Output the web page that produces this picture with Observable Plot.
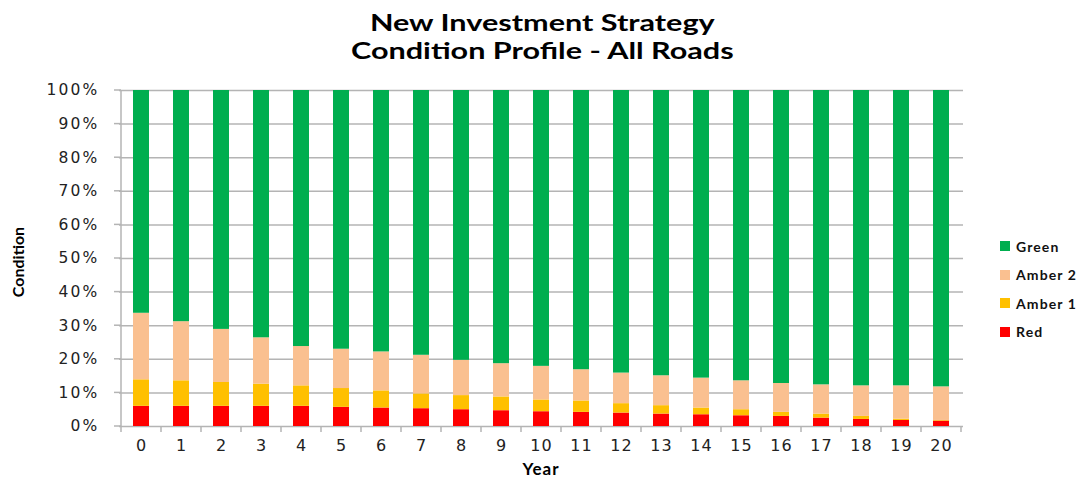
<!DOCTYPE html>
<html>
<head>
<meta charset="utf-8">
<script src="https://cdn.jsdelivr.net/npm/d3@7"></script>
<script src="https://cdn.jsdelivr.net/npm/@observablehq/plot@0.6"></script>
<style>
  html, body { margin: 0; padding: 0; background: #fff; }
  #wrap { position: relative; width: 1084px; height: 481px; overflow: hidden; }
  #title { position: absolute; left: 0; top: 8px; width: 1084px; text-align: center;
    font-family: Lato, "Open Sans", sans-serif; font-weight: bold; font-size: 23px; line-height: 28px; color: #000;
    transform: scaleX(1.33); transform-origin: 541px 0; }
  #chart { position: absolute; left: 0; top: 65px; }
  #legend { position: absolute; left: 1000px; top: 232px; font-family: Lato, "Open Sans", sans-serif;
    font-weight: bold; font-size: 14px; letter-spacing: 1.1px; color: #111; }
  .item { display: flex; align-items: center; height: 28.5px; }
  .sw { width: 10px; height: 10px; margin-right: 6px; }
</style>
</head>
<body>
<div id="wrap">
  <div id="title">New Investment Strategy<br>Condition Profile - All Roads</div>
  <div id="chart"></div>
  <div id="legend"></div>
</div>
<script>
const years = [0,1,2,3,4,5,6,7,8,9,10,11,12,13,14,15,16,17,18,19,20];
const red    = [6.0,6.0,6.0,6.0,6.0,5.7,5.5,5.3,5.0,4.7,4.4,4.2,4.0,3.7,3.5,3.2,3.0,2.5,2.1,1.8,1.6];
const amber1 = [7.9,7.6,7.1,6.6,6.1,5.6,5.1,4.4,4.2,4.1,3.5,3.4,2.8,2.5,2.0,1.8,1.2,1.2,0.9,0.4,0.2];
const amber2 = [19.8,17.6,15.8,13.8,11.7,11.7,11.6,11.5,10.5,9.9,10.0,9.3,9.1,8.9,8.9,8.6,8.6,8.7,9.1,9.9,10.0];
const green  = [66.3,68.8,71.1,73.6,76.2,77.0,77.8,78.8,80.3,81.3,82.1,83.1,84.1,84.9,85.6,86.4,87.2,87.6,87.9,87.9,88.2];
const seriesNames = ["Red","Amber 1","Amber 2","Green"];
const seriesColors = ["#FF0000","#FFC000","#FAC090","#00AE4F"];
const yTicks = [0,10,20,30,40,50,60,70,80,90,100];
const legendOrder = ["Green","Amber 2","Amber 1","Red"];

const seriesValues = [red, amber1, amber2, green];
const data = [];
years.forEach((yr, i) => {
  seriesNames.forEach((s, k) => data.push({year: String(yr), series: s, value: seriesValues[k][i]}));
});

const tickFont = "'DejaVu Sans', Verdana, sans-serif";
const chart = Plot.plot({
  width: 1084,
  height: 416,
  marginLeft: 119,
  marginRight: 121,
  marginTop: 25,
  marginBottom: 55,
  style: {fontFamily: tickFont, fontSize: "15px", color: "#333", background: "#fff"},
  x: {domain: years.map(String), paddingInner: 0.6, paddingOuter: 0.3, label: null},
  y: {domain: [0, 100], label: null},
  color: {domain: seriesNames, range: seriesColors},
  marks: [
    Plot.gridY(yTicks, {stroke: "#b4b4b4", strokeOpacity: 1, strokeWidth: 1.5}),
    Plot.barY(data, Plot.stackY({x: "year", y: "value", fill: "series", order: seriesNames})),
    Plot.axisX({tickSize: 0, tickPadding: 13, label: null, fontSize: 16, fontFamily: tickFont, fill: "#222"}),
    Plot.axisY(yTicks, {tickFormat: d => d + "%", tickSize: 0, tickPadding: 20, label: null, fontSize: 15.5, fontFamily: tickFont, fill: "#222"})
  ]
});

// Axis line, tick marks and axis titles positioned with Plot's own scales
const svg = d3.select(chart);
svg.selectAll("[aria-label='y-axis tick label'] text").attr("letter-spacing", 2.2);
svg.selectAll("[aria-label='x-axis tick label'] text").attr("letter-spacing", 1);
const xs = chart.scale("x"), ys = chart.scale("y");
const left = xs.apply("0") - xs.step * 0.3;
const g = svg.append("g").attr("stroke", "#b4b4b4").attr("stroke-width", 1.5);
for (let i = 0; i <= years.length; i++) {
  const xb = left + i * xs.step;
  g.append("line").attr("x1", xb).attr("x2", xb).attr("y1", ys.apply(0)).attr("y2", ys.apply(0) + 6);
}
yTicks.forEach(t => {
  g.append("line").attr("x1", left - 7).attr("x2", left).attr("y1", ys.apply(t)).attr("y2", ys.apply(t));
});
g.append("line").attr("x1", left).attr("x2", left).attr("y1", ys.apply(0)).attr("y2", ys.apply(100));
svg.append("text").attr("x", 541).attr("y", 410).attr("text-anchor", "middle")
  .attr("font-family", "Lato, 'Open Sans', sans-serif").attr("font-weight", "bold").attr("font-size", 17)
  .attr("letter-spacing", 1).attr("fill", "#000").text("Year");
svg.append("text").attr("transform", "translate(24," + (262 - 65) + ") rotate(-90)").attr("text-anchor", "middle")
  .attr("font-family", "Lato, 'Open Sans', sans-serif").attr("font-weight", "bold").attr("font-size", 16).attr("fill", "#000").text("Condition");

document.getElementById("chart").appendChild(chart);

const legend = document.getElementById("legend");
legendOrder.forEach(s => {
  const c = seriesColors[seriesNames.indexOf(s)];
  const it = document.createElement("div"); it.className = "item";
  const sw = document.createElement("div"); sw.className = "sw"; sw.style.background = c;
  const tx = document.createElement("span"); tx.textContent = s;
  it.appendChild(sw); it.appendChild(tx); legend.appendChild(it);
});
</script>
</body>
</html>
